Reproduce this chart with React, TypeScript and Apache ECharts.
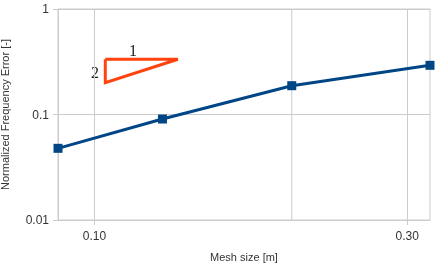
import React, { useEffect, useRef } from "react";
import * as echarts from "echarts";

const meshSizes = [0.088, 0.127, 0.2, 0.325];
const freqErrors = [0.0478, 0.0906, 0.1875, 0.2926];
const xTickValues = [0.1, 0.3];
const xMinorGrid = [0.2];
const triangleX = [0.1039, 0.1341, 0.1039, 0.1039];
const triangleY = [0.3336, 0.3336, 0.2, 0.3336];
const xRange = [0.088, 0.325];
const yRange = [0.01, 1];

const lg = (v: number) => Math.log10(v);

export default function App() {
  const ref = useRef<HTMLDivElement>(null);
  useEffect(() => {
    document.body.style.margin = "0";
    const chart = echarts.init(ref.current!, null, { renderer: "svg" });
    const axisGray = "#cccccc";
    const textColor = "#333333";
    const font = "Liberation Sans";
    chart.setOption({
      animation: false,
      grid: {
        left: 58,
        right: 10,
        top: 9,
        bottom: 54,
        containLabel: false,
        outerBoundsMode: "none",
        show: true,
        borderColor: axisGray,
        borderWidth: 1,
        backgroundColor: "transparent",
      },
      xAxis: {
        type: "value",
        min: lg(xRange[0]),
        max: lg(xRange[1]),
        name: "Mesh size [m]",
        nameLocation: "middle",
        nameGap: 31,
        nameTextStyle: { fontFamily: font, fontSize: 11, color: textColor },
        axisLine: { show: true, lineStyle: { color: axisGray } },
        axisTick: {
          show: true,
          length: 5,
          inside: false,
          lineStyle: { color: axisGray },
          customValues: xTickValues.map(lg),
        },
        axisLabel: {
          customValues: xTickValues.map(lg),
          margin: 10,
          fontFamily: font,
          fontSize: 12,
          color: textColor,
          formatter: (v: number) => Math.pow(10, v).toFixed(2),
        },
        splitLine: { show: true, lineStyle: { color: axisGray, width: 1 } },
      },
      yAxis: {
        type: "log",
        logBase: 10,
        min: yRange[0],
        max: yRange[1],
        name: "Normalized Frequency Error [-]",
        nameLocation: "middle",
        nameGap: 48,
        nameTextStyle: { fontFamily: font, fontSize: 11, color: textColor },
        axisLine: { show: true, lineStyle: { color: axisGray } },
        axisTick: { show: true, length: 5, lineStyle: { color: axisGray } },
        axisLabel: {
          margin: 9,
          fontFamily: font,
          fontSize: 12,
          color: textColor,
          formatter: (v: number) => String(Number(v.toPrecision(3))),
        },
        splitLine: { show: true, lineStyle: { color: axisGray, width: 1 } },
      },
      series: [
        {
          type: "line",
          name: "minor grid",
          silent: true,
          z: 1,
          symbol: "none",
          lineStyle: { color: axisGray, width: 1 },
          data: xMinorGrid.flatMap((x) => [
            [lg(x), yRange[0]],
            [lg(x), yRange[1]],
          ]),
        },
        {
          type: "line",
          name: "error",
          z: 3,
          symbol: "rect",
          symbolSize: 9,
          itemStyle: { color: "#004586" },
          lineStyle: { color: "#004586", width: 3 },
          data: meshSizes.map((x, i) => [lg(x), freqErrors[i]]),
        },
        {
          type: "line",
          name: "slope",
          z: 3,
          symbol: "none",
          lineStyle: { color: "#ff420e", width: 3, join: "miter" },
          data: triangleX.map((x, i) => [lg(x), triangleY[i]]),
        },
      ],
      graphic: [
        {
          type: "text",
          x: 133,
          y: 50,
          style: {
            text: "1",
            font: "16px 'Liberation Serif'",
            fill: "#222",
            align: "center",
            verticalAlign: "middle",
          },
        },
        {
          type: "text",
          x: 95,
          y: 72,
          style: {
            text: "2",
            font: "16px 'Liberation Serif'",
            fill: "#222",
            align: "center",
            verticalAlign: "middle",
          },
        },
      ],
    });
    return () => chart.dispose();
  }, []);
  return (
    <div
      ref={ref}
      style={{ position: "fixed", left: 0, top: 0, width: 440, height: 274 }}
    />
  );
}
